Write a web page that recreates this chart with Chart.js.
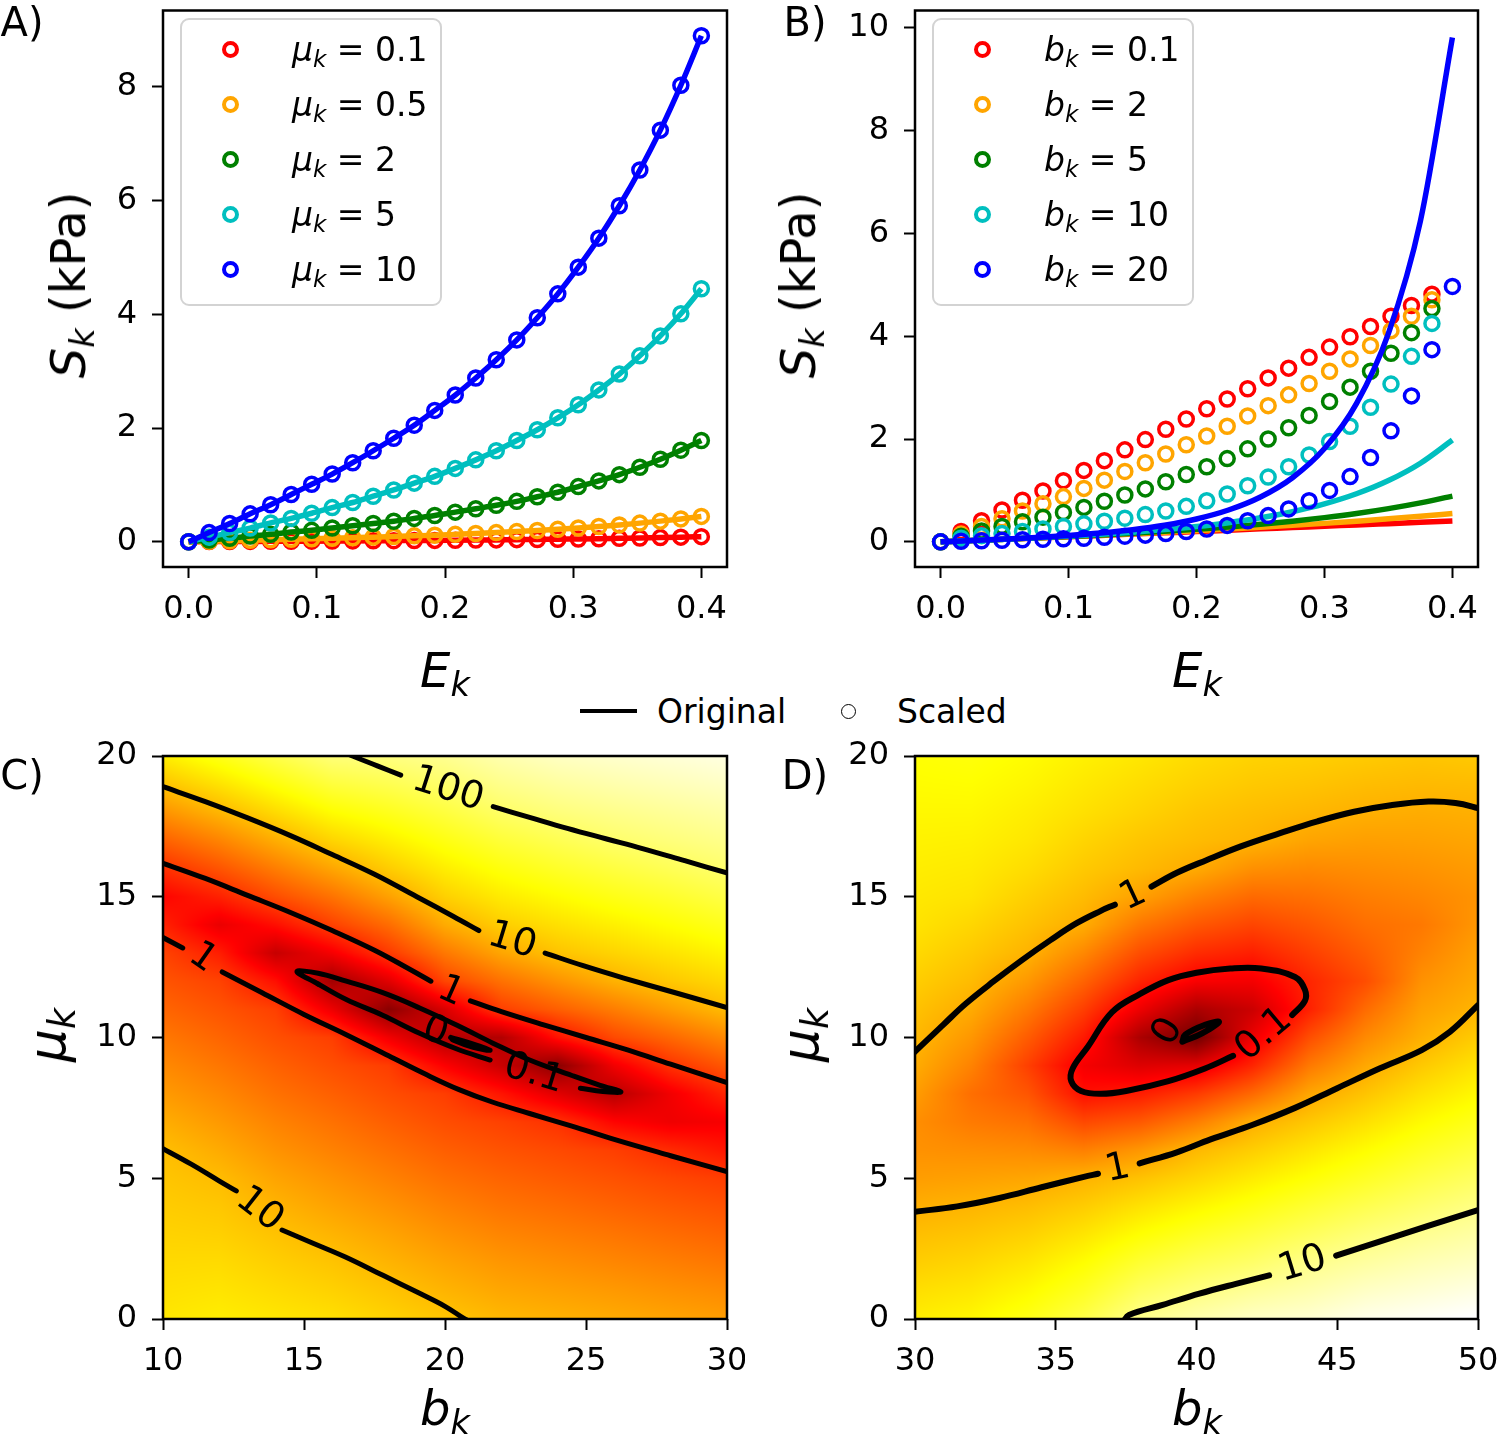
<!DOCTYPE html>
<html><head><meta charset="utf-8">
<script src="https://cdn.jsdelivr.net/npm/chart.js@4.4.1/dist/chart.umd.min.js"></script>
<style>
body{margin:0;width:1500px;height:1446px;background:#fff;position:relative;overflow:hidden;font-family:'DejaVu Sans',sans-serif;color:#000}
.wrap{position:absolute}
.t{position:absolute;white-space:nowrap;line-height:1}
.c{transform:translate(-50%,-50%)}
sub{font-size:70%;vertical-align:-0.28em;line-height:0}
.legend{position:absolute;top:18px;width:258px;height:284px;border:2px solid #d3d3d3;border-radius:9px;background:rgba(255,255,255,0.85)}
.mk{position:absolute;width:17px;height:17px;box-sizing:border-box;border-radius:50%;border:4px solid #000}
.lt{position:absolute;font-size:33px;line-height:1;transform:translateY(-50%);white-space:nowrap}
</style></head><body>
<div class="wrap" style="left:0;top:0"><canvas id="cA" width="745" height="680"></canvas></div>
<div class="wrap" style="left:752px;top:0"><canvas id="cB" width="748" height="680"></canvas></div>
<div class="wrap" style="left:0;top:740px"><canvas id="cC" width="745" height="700"></canvas></div>
<div class="wrap" style="left:752px;top:740px"><canvas id="cD" width="748" height="700"></canvas></div>

<div class="t c" style="left:22px;top:22px;font-size:40px">A)</div>
<div class="t c" style="left:805px;top:22px;font-size:40px">B)</div>
<div class="t c" style="left:22px;top:775px;font-size:40px">C)</div>
<div class="t c" style="left:805px;top:775px;font-size:40px">D)</div>

<div class="t c" style="left:68px;top:285px;font-size:48px;transform:translate(-50%,-50%) rotate(-90deg)"><i>S</i><sub><i>k</i></sub> (kPa)</div>
<div class="t c" style="left:798px;top:285px;font-size:48px;transform:translate(-50%,-50%) rotate(-90deg)"><i>S</i><sub><i>k</i></sub> (kPa)</div>
<div class="t c" style="left:445px;top:670px;font-size:48px"><i>E</i><sub><i>k</i></sub></div>
<div class="t c" style="left:1197px;top:670px;font-size:48px"><i>E</i><sub><i>k</i></sub></div>
<div class="t c" style="left:47px;top:1035px;font-size:52px;transform:translate(-50%,-50%) rotate(-90deg)"><i>μ</i><sub><i>k</i></sub></div>
<div class="t c" style="left:800px;top:1035px;font-size:52px;transform:translate(-50%,-50%) rotate(-90deg)"><i>μ</i><sub><i>k</i></sub></div>
<div class="t c" style="left:445px;top:1408px;font-size:48px"><i>b</i><sub><i>k</i></sub></div>
<div class="t c" style="left:1197px;top:1408px;font-size:48px"><i>b</i><sub><i>k</i></sub></div>

<div style="position:absolute;left:580px;top:709px;width:57px;height:4px;background:#000"></div>
<div class="t" style="left:657px;top:711px;font-size:33px;transform:translateY(-50%)">Original</div>
<div style="position:absolute;left:841px;top:704px;width:15px;height:15px;box-sizing:border-box;border:1.6px solid #000;border-radius:50%"></div>
<div class="t" style="left:897px;top:711px;font-size:33px;transform:translateY(-50%)">Scaled</div>

<script>
// ---------------- DATA ----------------
const seriesColors = ['#ff0000','#ffa500','#008000','#00bfbf','#0000ff'];
const muLabels = ['0.1','0.5','2','5','10'];
const bLabels  = ['0.1','2','5','10','20'];

// Panel A: strain values (scaled points and original curves share these)
const Ek = [0,0.016,0.032,0.048,0.064,0.08,0.096,0.112,0.128,0.144,0.16,0.176,0.192,0.208,0.224,0.24,0.256,0.272,0.288,0.304,0.32,0.336,0.352,0.368,0.384,0.4];
const A_mu01 = [0,0.002,0.003,0.005,0.007,0.008,0.010,0.012,0.014,0.016,0.018,0.021,0.023,0.026,0.029,0.032,0.036,0.039,0.044,0.048,0.053,0.059,0.065,0.072,0.080,0.089];
const A_mu05 = [0,0.008,0.016,0.024,0.033,0.041,0.050,0.060,0.069,0.080,0.091,0.103,0.115,0.129,0.144,0.160,0.178,0.197,0.218,0.241,0.267,0.295,0.327,0.362,0.401,0.445];
const A_mu2  = [0,0.03,0.06,0.10,0.13,0.17,0.20,0.24,0.28,0.32,0.36,0.41,0.46,0.52,0.58,0.64,0.71,0.79,0.87,0.97,1.07,1.18,1.31,1.45,1.61,1.78];
const A_mu5  = [0,0.08,0.16,0.24,0.33,0.41,0.50,0.60,0.69,0.80,0.91,1.03,1.15,1.29,1.44,1.60,1.78,1.97,2.18,2.41,2.67,2.95,3.27,3.62,4.01,4.45];
const A_mu10 = [0,0.16,0.32,0.49,0.65,0.83,1.01,1.19,1.39,1.60,1.82,2.05,2.31,2.58,2.88,3.20,3.55,3.94,4.36,4.83,5.34,5.91,6.54,7.24,8.03,8.90];

// Panel B: original curves
const EkLine = [0,0.025,0.05,0.075,0.1,0.125,0.15,0.175,0.2,0.225,0.25,0.275,0.3,0.325,0.35,0.375,0.4];
const Bl_01 = [0,0.025,0.05,0.075,0.1,0.125,0.15,0.175,0.2,0.226,0.252,0.277,0.303,0.328,0.354,0.380,0.406];
const Bl_2  = [0,0.025,0.050,0.076,0.102,0.129,0.157,0.186,0.217,0.249,0.283,0.320,0.359,0.402,0.447,0.497,0.551];
const Bl_5  = [0,0.025,0.051,0.077,0.105,0.135,0.168,0.204,0.244,0.290,0.342,0.401,0.471,0.551,0.646,0.758,0.890];
const Bl_10 = [0,0.025,0.051,0.079,0.111,0.146,0.188,0.238,0.298,0.373,0.467,0.586,0.738,0.935,1.192,1.530,1.981];
const Bl_20 = [0,0.025,0.053,0.084,0.122,0.171,0.235,0.323,0.445,0.619,0.873,1.248,1.815,2.688,4.056,6.244,9.813];
// Panel B: scaled points (at Ek)
const Bp_01 = [0,0.20,0.41,0.62,0.81,0.99,1.19,1.39,1.58,1.79,1.99,2.19,2.39,2.59,2.78,2.98,3.19,3.38,3.59,3.79,3.99,4.19,4.39,4.60,4.82];
const Bp_2  = [0,0.15,0.30,0.45,0.60,0.74,0.88,1.04,1.20,1.37,1.54,1.71,1.89,2.06,2.25,2.45,2.65,2.86,3.08,3.32,3.56,3.82,4.11,4.39,4.71];
const Bp_5  = [0,0.11,0.21,0.30,0.39,0.48,0.57,0.67,0.79,0.91,1.03,1.17,1.31,1.46,1.62,1.81,2.00,2.22,2.46,2.73,3.01,3.32,3.67,4.07,4.54];
const Bp_10 = [0,0.07,0.12,0.16,0.20,0.25,0.30,0.35,0.40,0.46,0.53,0.60,0.69,0.80,0.93,1.09,1.26,1.46,1.69,1.95,2.25,2.62,3.07,3.61,4.25];
const Bp_20 = [0,0.01,0.02,0.03,0.04,0.05,0.06,0.07,0.09,0.11,0.13,0.16,0.20,0.25,0.32,0.41,0.51,0.64,0.80,1.00,1.27,1.64,2.16,2.84,3.74,4.97];

// Tick labels
const ticksE = [0,0.1,0.2,0.3,0.4];
const ticksSA = [0,2,4,6,8];
const ticksSB = [0,2,4,6,8,10];
const ticksBC = [10,15,20,25,30];
const ticksBD = [30,35,40,45,50];
const ticksMu = [0,5,10,15,20];

// Panel C/D error landscapes: log10(error) on grid, rows mu = 0..20, columns b
const gridMu = [0,1,2,3,4,5,6,7,8,9,10,11,12,13,14,15,16,17,18,19,20];
const gridBC = [10,12,14,16,18,20,22,24,26,28,30];
const gridBD = [30,32,34,36,38,40,42,44,46,48,50];
const logErrC = [
 [1.3,1.35,1.3,1.25,1.15,1.05,0.95,0.9,0.85,0.8,0.75],
 [1.25,1.28,1.21,1.14,1.04,0.92,0.82,0.77,0.72,0.66,0.61],
 [1.2,1.21,1.12,1.04,0.92,0.8,0.7,0.64,0.58,0.52,0.46],
 [1.15,1.13,1.03,0.92,0.8,0.67,0.57,0.51,0.45,0.38,0.32],
 [1.1,1.06,0.92,0.79,0.67,0.54,0.44,0.38,0.31,0.24,0.18],
 [1.05,0.98,0.8,0.67,0.54,0.41,0.32,0.25,0.18,0.1,0.03],
 [1.0,0.85,0.67,0.54,0.41,0.28,0.19,0.12,0.04,-0.11,-0.27],
 [0.87,0.72,0.55,0.42,0.28,0.15,0.06,-0.06,-0.4,-0.54,-0.48],
 [0.73,0.59,0.42,0.29,0.15,0.03,-0.28,-0.65,-0.97,-0.52,-0.14],
 [0.6,0.46,0.3,0.16,0.03,-0.44,-0.83,-1.3,-0.52,-0.05,0.23],
 [0.47,0.33,0.17,0.04,-0.52,-1.0,-1.0,-0.3,0.12,0.35,0.6],
 [0.33,0.2,0.05,-0.56,-1.29,-0.71,0.04,0.28,0.51,0.75,0.98],
 [0.2,0.07,-0.32,-1.12,-0.65,0.09,0.42,0.67,0.9,1.07,1.2],
 [0.07,-0.21,-0.85,-0.49,0.0,0.47,0.81,1.03,1.16,1.28,1.41],
 [-0.17,-0.58,-0.32,0.06,0.38,0.85,1.11,1.25,1.37,1.49,1.62],
 [-0.4,-0.18,0.15,0.43,0.77,1.13,1.33,1.46,1.59,1.7,1.83],
 [-0.07,0.2,0.51,0.81,1.1,1.35,1.54,1.68,1.8,1.91,2.02],
 [0.3,0.56,0.87,1.16,1.36,1.57,1.76,1.89,2.01,2.09,2.17],
 [0.67,0.93,1.21,1.47,1.62,1.79,1.98,2.09,2.17,2.24,2.31],
 [1.03,1.27,1.53,1.78,1.88,2.01,2.17,2.27,2.34,2.4,2.46],
 [1.35,1.6,1.85,2.08,2.12,2.2,2.35,2.45,2.5,2.55,2.6]
];
const logErrD = [
 [0.36,0.42,0.55,0.75,1.02,1.15,1.25,1.3,1.4,1.45,1.5],
 [0.27,0.32,0.43,0.6,0.84,0.97,1.07,1.15,1.25,1.31,1.37],
 [0.17,0.22,0.31,0.46,0.66,0.79,0.88,1.01,1.1,1.18,1.24],
 [0.08,0.12,0.19,0.31,0.47,0.6,0.71,0.83,0.95,1.04,1.12],
 [-0.02,0.02,0.07,0.16,0.29,0.41,0.53,0.66,0.78,0.89,0.99],
 [-0.12,-0.1,-0.07,0.01,0.1,0.22,0.35,0.48,0.61,0.74,0.85],
 [-0.19,-0.21,-0.23,-0.3,-0.16,0.04,0.17,0.31,0.45,0.59,0.71],
 [-0.21,-0.33,-0.39,-0.63,-0.53,-0.31,-0.02,0.13,0.28,0.44,0.57],
 [-0.12,-0.4,-0.55,-0.97,-0.89,-0.71,-0.43,-0.07,0.11,0.29,0.43],
 [-0.03,-0.28,-0.68,-1.12,-1.26,-1.21,-0.84,-0.34,-0.06,0.14,0.3],
 [0.04,-0.16,-0.51,-0.91,-1.56,-1.92,-1.16,-0.6,-0.24,-0.01,0.16],
 [0.1,-0.04,-0.33,-0.69,-1.16,-1.56,-1.37,-0.87,-0.42,-0.1,0.02],
 [0.17,0.06,-0.15,-0.47,-0.85,-1.09,-1.12,-0.84,-0.6,-0.19,-0.05],
 [0.24,0.14,0.01,-0.25,-0.6,-0.8,-0.88,-0.69,-0.5,-0.28,-0.1],
 [0.3,0.22,0.1,-0.03,-0.35,-0.54,-0.65,-0.54,-0.4,-0.34,-0.16],
 [0.33,0.3,0.18,0.06,-0.1,-0.29,-0.43,-0.39,-0.31,-0.26,-0.18],
 [0.36,0.34,0.26,0.14,0.05,-0.04,-0.2,-0.24,-0.21,-0.18,-0.13],
 [0.39,0.38,0.32,0.21,0.12,0.06,0.01,-0.08,-0.11,-0.1,-0.07],
 [0.42,0.42,0.36,0.28,0.2,0.12,0.07,0.03,-0.01,-0.03,-0.01],
 [0.45,0.46,0.41,0.33,0.26,0.19,0.14,0.11,0.07,0.05,0.06],
 [0.48,0.5,0.45,0.38,0.32,0.25,0.2,0.18,0.15,0.12,0.14]
];

// Contour lines, [b, mu] pairs (split where labels sit)
const C_100a = [[16.5,20.1],[16.72,20.0],[17.6,19.65],[18.43,19.32]];
const C_100b = [[21.71,18.2],[23.0,17.82],[24.34,17.43],[25.7,17.06],[26.97,16.72],[28.5,16.28],[30.05,15.83],[30.3,15.76]];
const C_10ua = [[9.8,18.98],[10.0,18.91],[11.5,18.38],[13.0,17.8],[14.5,17.18],[16.0,16.5],[17.5,15.8],[19.0,15.0],[20.3,14.3],[21.2,13.8]];
const C_10ub = [[23.55,13.0],[24.9,12.55],[26.31,12.12],[28.2,11.58],[30.05,11.05],[30.3,10.98]];
const C_1ua = [[9.8,16.26],[10.0,16.19],[11.5,15.65],[13.0,15.05],[14.5,14.45],[16.0,13.8],[17.5,13.1],[18.7,12.45],[19.5,12.0]];
const C_1ub = [[20.9,11.3],[22.0,10.92],[23.5,10.45],[25.0,10.0],[26.5,9.55],[28.0,9.05],[30.05,8.38],[30.3,8.3]];
const C_1la = [[9.8,13.66],[10.0,13.55],[10.7,13.18]];
const C_1lb = [[12.1,12.33],[13.5,11.6],[15.0,10.82],[16.5,10.1],[18.0,9.35],[19.3,8.7],[20.5,8.15],[21.7,7.7],[23.0,7.3],[24.5,6.85],[26.0,6.38],[28.0,5.8],[30.05,5.22],[30.3,5.15]];
const C_01a = [[15.5,11.9],[14.75,12.34],[15.5,12.28],[16.5,12.0],[17.77,11.6],[19.1,11.05],[20.5,10.4],[21.7,9.8],[23.0,9.2],[24.5,8.65],[25.5,8.3],[26.24,8.07],[25.6,8.08],[24.8,8.2]];
const C_01b = [[21.6,9.2],[20.4,9.6],[19.1,10.15],[17.77,10.8],[16.5,11.35],[15.5,11.9]];
const C_0 = [[20.2,10.0],[20.9,9.8],[21.6,9.55],[21.0,9.65],[20.3,9.9],[20.2,10.0]];
const C_10la = [[9.8,6.15],[10.0,6.05],[11.0,5.5],[12.0,4.9],[12.6,4.55]];
const C_10lb = [[14.22,3.16],[15.3,2.7],[16.45,2.21],[17.8,1.55],[19.08,0.92],[20.0,0.45],[20.7,0.0],[20.9,-0.1]];

const D_1ua = [[29.7,9.2],[30.0,9.5],[31.0,10.45],[31.8,11.2],[32.8,12.0],[33.8,12.75],[34.8,13.45],[35.74,14.06],[36.6,14.5],[37.1,14.72]];
const D_1ub = [[38.4,15.36],[39.3,15.85],[40.35,16.3],[41.6,16.8],[42.97,17.26],[44.3,17.68],[45.6,18.02],[46.9,18.25],[48.24,18.38],[49.2,18.33],[50.0,18.15],[50.3,18.05]];
const D_1la = [[29.7,3.77],[30.0,3.81],[31.5,4.0],[33.0,4.3],[34.5,4.68],[36.0,5.05],[36.5,5.16]];
const D_1lb = [[37.98,5.53],[39.3,5.92],[40.5,6.38],[42.0,6.9],[43.5,7.5],[45.0,8.2],[46.5,8.9],[48.0,9.55],[49.0,10.2],[50.0,11.15],[50.3,11.45]];
const D_01 = [[43.4,10.8],[43.85,11.3],[43.85,11.7],[43.5,12.15],[42.3,12.45],[41.2,12.45],[40.0,12.3],[39.0,12.04],[38.0,11.55],[37.0,10.9],[36.14,9.67],[35.6,8.9],[35.55,8.45],[35.9,8.1],[36.6,8.0],[37.5,8.1],[39.0,8.45],[40.3,8.9],[41.3,9.35]];
const D_0 = [[39.5,9.85],[40.2,10.15],[40.8,10.55],[40.3,10.45],[39.6,10.1],[39.5,9.85]];
const D_10a = [[37.4,-0.1],[37.6,0.14],[38.8,0.5],[40.1,0.9],[41.4,1.25],[42.58,1.55]];
const D_10b = [[44.96,2.25],[46.5,2.75],[48.2,3.3],[50.0,3.87],[50.3,3.97]];

// Contour labels: [text, b, mu, rotation deg]
const labelsC = [['100',20.1,18.8,18],['10',22.38,13.42,17],['1',20.2,11.62,24],['1',11.4,12.82,35],['0.1',23.15,8.7,17],['0',19.65,10.2,20],['10',13.42,3.88,38]];
const labelsD = [['1',37.75,15.02,-25],['1',37.2,5.33,-12],['0.1',42.4,10.1,-40],['0',39.0,10.2,-60],['10',43.77,1.93,-17]];

// ---------------- RENDER ----------------
const FONT = 'DejaVu Sans';
function pts(xs, ys){ return ys.map((v,i)=>({x:xs[i], y:v})); }
function pairPts(arr){ return arr.map(p=>({x:p[0], y:p[1]})); }

function axis(min, max, ticks, fmt, isX, fixed){
  return {
    type:'linear', min:min, max:max,
    afterBuildTicks(s){ s.ticks = ticks.map(v=>({value:v})); },
    afterFit(s){ if(isX){ s.height=fixed; s.paddingLeft=0; s.paddingRight=0; } else { s.width=fixed; s.paddingTop=0; s.paddingBottom=0; } },
    grid:{display:true, drawOnChartArea:false, drawTicks:true, tickLength:11, tickWidth:2, tickColor:'#000', color:'#000'},
    border:{display:false},
    ticks:{color:'#000', font:{family:FONT, size:32}, padding:isX?12:15, callback:(v)=>fmt(v), maxRotation:0, minRotation:0, autoSkip:false}
  };
}
const spines = {id:'spines', afterDraw(chart){ const {ctx, chartArea:a}=chart; ctx.save(); ctx.strokeStyle='#000'; ctx.lineWidth=2.5; ctx.strokeRect(a.left,a.top,a.right-a.left,a.bottom-a.top); ctx.restore(); }};

function hot(t){
  t = Math.max(0, Math.min(1, t));
  const k1=0.365079, k2=0.746032;
  const r = t<k1 ? 0.0416+(1-0.0416)*t/k1 : 1;
  const g = t<k1 ? 0 : (t<k2 ? (t-k1)/(k2-k1) : 1);
  const b = t<k2 ? 0 : (t-k2)/(1-k2);
  return [r*255, g*255, b*255];
}
function heatPlugin(grid, bs, mus, tAt1, tPerDec){
  return {id:'heat', beforeDatasetsDraw(chart){
    const {ctx, chartArea:a, scales} = chart; const xs=scales.x, ys=scales.y;
    const L=Math.round(a.left), T=Math.round(a.top), W=Math.round(a.right)-L, H=Math.round(a.bottom)-T;
    const img = ctx.createImageData(W,H); const d=img.data;
    const nr=mus.length, nc=bs.length;
    for(let j=0;j<H;j++){
      const mu = ys.getValueForPixel(T+j+0.5);
      let fj = (mu-mus[0])/(mus[1]-mus[0]); fj=Math.max(0,Math.min(nr-1,fj));
      const j0=Math.min(nr-2,Math.floor(fj)), wj=fj-j0;
      for(let i=0;i<W;i++){
        const b = xs.getValueForPixel(L+i+0.5);
        let fi = (b-bs[0])/(bs[1]-bs[0]); fi=Math.max(0,Math.min(nc-1,fi));
        const i0=Math.min(nc-2,Math.floor(fi)), wi=fi-i0;
        const v = (grid[j0][i0]*(1-wi)+grid[j0][i0+1]*wi)*(1-wj) + (grid[j0+1][i0]*(1-wi)+grid[j0+1][i0+1]*wi)*wj;
        const c = hot(tAt1 + tPerDec*v);
        const k=(j*W+i)*4; d[k]=c[0]; d[k+1]=c[1]; d[k+2]=c[2]; d[k+3]=255;
      }
    }
    ctx.putImageData(img, L, T);
  }};
}
function labelPlugin(labels, size){
  return {id:'clabels', afterDatasetsDraw(chart){
    const {ctx, scales} = chart;
    ctx.save(); ctx.font = size+'px "'+FONT+'"'; ctx.fillStyle='#000'; ctx.textAlign='center'; ctx.textBaseline='middle';
    labels.forEach(l=>{ ctx.save(); ctx.translate(scales.x.getPixelForValue(l[1]), scales.y.getPixelForValue(l[2])); ctx.rotate(l[3]*Math.PI/180); ctx.fillText(l[0],0,0); ctx.restore(); });
    ctx.restore();
  }};
}

function orderDatasets(ds){ ds.forEach((d,i)=>{ d.order = ds.length - i; }); return ds; }
function lineDs(data, color, w){ return {data:data, showLine:true, borderColor:color, borderWidth:w, pointRadius:0, pointHoverRadius:0, fill:false, cubicInterpolationMode:'monotone'}; }
function pointDs(data, color){ return {data:data, showLine:false, pointRadius:7, pointBorderWidth:3.5, pointBorderColor:color, pointBackgroundColor:'rgba(0,0,0,0)', borderColor:color, clip:false}; }
function contourDs(arr, w){ return {data:pairPts(arr), showLine:true, borderColor:'#000', borderWidth:w, pointRadius:0, pointHoverRadius:0, tension:0.4, fill:false, clip:0, borderCapStyle:'round', borderJoinStyle:'round'}; }

const baseOpts = {responsive:false, devicePixelRatio:1, animation:false, events:[], plugins:{legend:{display:false}, tooltip:{enabled:false}}};
const f1 = v=>Number(v).toFixed(1), f0 = v=>String(Math.round(v));

// Panel A
const aSeries = [A_mu01, A_mu05, A_mu2, A_mu5, A_mu10];
const aDs = [];
aSeries.forEach((s,i)=>{ aDs.push(lineDs(pts(Ek,s), seriesColors[i], 5.5)); aDs.push(pointDs(pts(Ek,s), seriesColors[i])); });
new Chart(document.getElementById('cA'), {type:'scatter', data:{datasets:orderDatasets(aDs)},
  options:Object.assign({}, baseOpts, {layout:{padding:{top:2,right:18,left:0,bottom:0}},
    scales:{x:axis(-0.02,0.42,ticksE,f1,true,113), y:axis(-0.445,9.345,ticksSA,f0,false,163)}}),
  plugins:[spines]});

// Panel B
const bLines = [Bl_01, Bl_2, Bl_5, Bl_10, Bl_20];
const bPts = [Bp_01, Bp_2, Bp_5, Bp_10, Bp_20];
const bDs = [];
bLines.forEach((s,i)=>{ bDs.push(lineDs(pts(EkLine,s), seriesColors[i], 5.5)); bDs.push(pointDs(pts(Ek,bPts[i]), seriesColors[i])); });
new Chart(document.getElementById('cB'), {type:'scatter', data:{datasets:orderDatasets(bDs)},
  options:Object.assign({}, baseOpts, {layout:{padding:{top:2,right:22,left:0,bottom:0}},
    scales:{x:axis(-0.02,0.42,ticksE,f1,true,113), y:axis(-0.49,10.34,ticksSB,f0,false,163)}}),
  plugins:[spines]});

// Panel C
const cDs = [C_100a,C_100b,C_10ua,C_10ub,C_1ua,C_1ub,C_1la,C_1lb,C_01a,C_01b,C_0,C_10la,C_10lb].map(c=>contourDs(c,5));
new Chart(document.getElementById('cC'), {type:'scatter', data:{datasets:cDs},
  options:Object.assign({}, baseOpts, {layout:{padding:{top:16,right:18,left:0,bottom:0}},
    scales:{x:axis(10,30,ticksBC,f0,true,121), y:axis(0,20,ticksMu,f0,false,163)}}),
  plugins:[heatPlugin(logErrC, gridBC, gridMu, 0.45, 0.2), labelPlugin(labelsC, 38), spines]});

// Panel D
const dDs = [D_1ua,D_1ub,D_1la,D_1lb,D_01,D_0,D_10a,D_10b].map(c=>contourDs(c,6));
new Chart(document.getElementById('cD'), {type:'scatter', data:{datasets:dDs},
  options:Object.assign({}, baseOpts, {layout:{padding:{top:16,right:22,left:0,bottom:0}},
    scales:{x:axis(30,50,ticksBD,f0,true,121), y:axis(0,20,ticksMu,f0,false,163)}}),
  plugins:[heatPlugin(logErrD, gridBD, gridMu, 0.63, 0.25), labelPlugin(labelsD, 38), spines]});

// Legends
function buildLegend(left, name, values){
  const box = document.createElement('div'); box.className='legend'; box.style.left=left+'px';
  const rowY = [29,84,139,194,249];
  values.forEach((v,i)=>{
    const m=document.createElement('div'); m.className='mk'; m.style.left=(48-8.5)+'px'; m.style.top=(rowY[i]-8.5)+'px'; m.style.borderColor=seriesColors[i]; box.appendChild(m);
    const t=document.createElement('div'); t.className='lt'; t.style.left='110px'; t.style.top=rowY[i]+'px';
    t.innerHTML='<i>'+name+'</i><sub><i>k</i></sub> = '+v; box.appendChild(t);
  });
  document.body.appendChild(box);
}
buildLegend(180,'μ',muLabels);
buildLegend(932,'b',bLabels);
</script>
</body></html>
